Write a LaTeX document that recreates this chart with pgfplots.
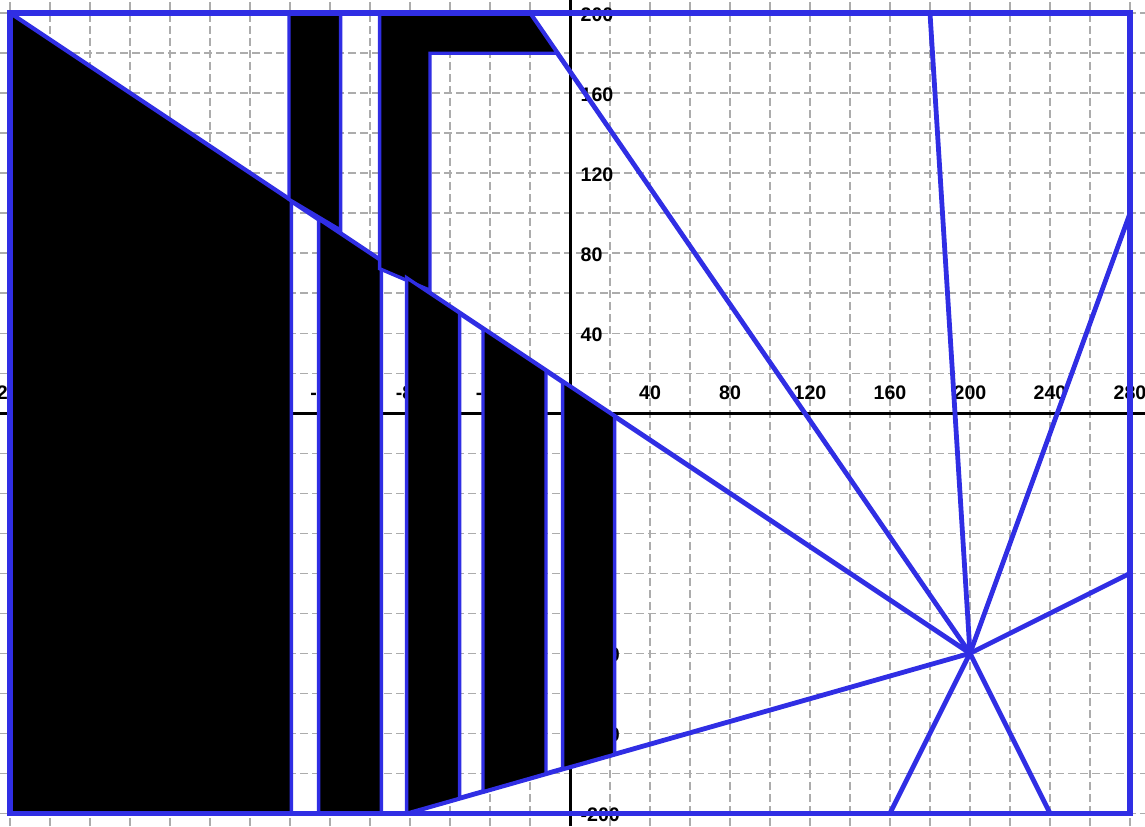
\documentclass[border=0pt]{standalone}
\usepackage{fontspec}
\setmainfont{Liberation Sans}
\usepackage{pgfplots}
\pgfplotsset{compat=1.18}
\definecolor{sb}{RGB}{48,46,228}
\definecolor{gr}{RGB}{172,172,172}
\begin{document}
\begin{tikzpicture}
\begin{axis}[
  at={(0,0)}, anchor=south west,
  set layers=standard,
  scale only axis, width=572.5pt, height=413pt,
  xmin=-285, xmax=287.5, ymin=-206.35, ymax=206.65,
  axis lines=middle,
  axis line style={black, line width=1.5pt, -},
  xtick={-280,-240,-200,-160,-120,-80,-40,40,80,120,160,200,240,280},
  ytick={-200,-160,-120,-80,-40,40,80,120,160,200},
  minor xtick={-260,-220,...,260},
  minor ytick={-180,-140,...,180},
  grid=both,
  major grid style={gr, line width=0.8pt, dash pattern=on 4pt off 2pt},
  minor grid style={gr, line width=0.8pt, dash pattern=on 4pt off 2pt},
  major tick length=0pt, minor tick length=0pt,
  ticklabel style={font=\bfseries\fontsize{9.8}{10}\selectfont},
  /pgf/number format/assume math mode=true,
  xticklabel style={anchor=south, yshift=3.5pt},
  yticklabel style={anchor=west, xshift=1.8pt, yshift=-0.8pt},
  no markers,
]
% star lines from (200,-120)
\addplot[sb, line width=2.4pt] coordinates {(200,-120) (-280,200)};
\addplot[sb, line width=2.4pt] coordinates {(200,-120) (-81.7,-200)};
\addplot[sb, line width=2.4pt] coordinates {(200,-120) (-20,200)};
\addplot[sb, line width=2.4pt] coordinates {(200,-120) (180,200)};
\addplot[sb, line width=2.4pt] coordinates {(200,-120) (280,100)};
\addplot[sb, line width=2.4pt] coordinates {(200,-120) (280,-80)};
\addplot[sb, line width=2.4pt] coordinates {(200,-120) (240,-200)};
\addplot[sb, line width=2.4pt] coordinates {(200,-120) (160,-200)};
% filled pieces
\addplot[fill=black, draw=sb, line width=1.7pt, line cap=rect] coordinates {(-280,200) (-139.3,106.2) (-139.3,-200) (-280,-200) (-280,200)};
\addplot[fill=black, draw=sb, line width=1.7pt, line cap=rect] coordinates {(-125.7,-200) (-125.7,97.1) (-94.3,76.2) (-94.3,-200) (-125.7,-200)};
\addplot[fill=black, draw=sb, line width=1.7pt, line cap=rect] coordinates {(-140.5,200) (-140.5,107) (-114.7,91.6) (-114.7,200) (-140.5,200)};
\addplot[fill=black, draw=sb, line width=1.7pt, line cap=rect] coordinates {(-95.2,200) (-20,200) (-6.25,180) (-70,180) (-70,61.5) (-95.2,72.3) (-95.2,200)};
\addplot[fill=black, draw=sb, line width=1.7pt, line cap=rect] coordinates {(-81.7,-200) (-81.7,67.8) (-55.2,50.1) (-55.2,-192.5) (-81.7,-200)};
\addplot[fill=black, draw=sb, line width=1.7pt, line cap=rect] coordinates {(-43.5,-189.2) (-43.5,42.3) (-12,21.3) (-12,-180.2) (-43.5,-189.2)};
\addplot[fill=black, draw=sb, line width=1.7pt, line cap=rect] coordinates {(-3.7,-177.8) (-3.7,15.8) (22.3,-1.5) (22.3,-170.5) (-3.7,-177.8)};
% frame
\addplot[sb, line width=2.8pt, line cap=rect] coordinates {(-280,-200) (280,-200) (280,200) (-280,200) (-280,-200)};
\end{axis}
\pgfresetboundingbox
\path[use as bounding box] (0,0) rectangle (572.5pt,413pt);
\end{tikzpicture}
\end{document}
